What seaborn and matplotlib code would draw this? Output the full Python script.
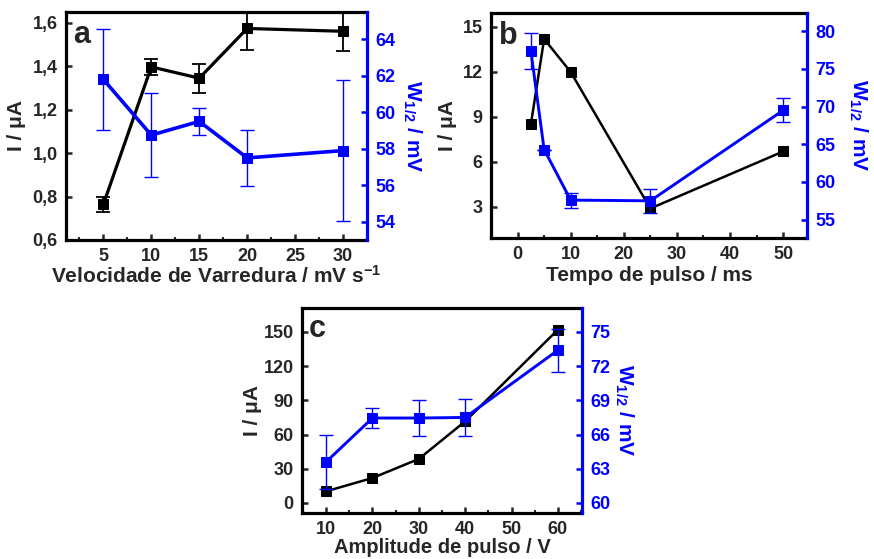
import numpy as np
import pandas as pd
import seaborn as sns
import matplotlib
matplotlib.use("Agg")
import matplotlib.pyplot as plt
from matplotlib.ticker import FuncFormatter, MultipleLocator

# dados
# (a) velocidade de varredura
a_x = [5, 10, 15, 20, 30]
a_I = [0.764, 1.397, 1.345, 1.574, 1.561]
a_I_err = [0.035, 0.035, 0.066, 0.10, 0.09]
a_W = [61.8, 58.75, 59.5, 57.5, 57.9]
a_W_err = [2.75, 2.3, 0.75, 1.55, 3.85]

# (b) tempo de pulso
b_x = [2.5, 5, 10, 25, 50]
b_I = [8.5, 14.2, 12.0, 2.9, 6.7]
b_W = [77.4, 64.3, 57.6, 57.5, 69.5]
b_W_err = [2.4, 0.0, 1.0, 1.6, 1.6]

# (c) amplitude de pulso
c_x = [10, 20, 30, 40, 60]
c_I = [10.2, 21.9, 38.6, 71.6, 152]
c_W = [63.6, 67.45, 67.45, 67.5, 73.4]
c_W_err = [2.4, 0.9, 1.6, 1.6, 1.9]

sns.set_style("ticks")
plt.rcParams['font.family'] = ['Liberation Sans', 'DejaVu Sans']
plt.rcParams['font.weight'] = 'bold'
plt.rcParams['axes.labelweight'] = 'bold'
plt.rcParams['mathtext.fontset'] = 'custom'
plt.rcParams['mathtext.rm'] = 'Liberation Sans:bold'
plt.rcParams['mathtext.bf'] = 'Liberation Sans:bold'
plt.rcParams['mathtext.default'] = 'bf'

BLUE = '#0000ff'
fig = plt.figure(figsize=(8.74, 5.59), dpi=100)


def painel(rect, x, I, W, W_err, I_err=None, lw=1.8, letra='a', pad_l=4, pad_r=18):
    ax = fig.add_axes(rect)
    ax2 = ax.twinx()
    df = pd.DataFrame({'x': x, 'I': I, 'W': W})
    if I_err is not None:
        ax.errorbar(x, I, yerr=I_err, fmt='none', ecolor='black', elinewidth=1.3, capsize=5, capthick=1.3)
    sns.lineplot(data=df, x='x', y='I', ax=ax, color='black', lw=lw, marker='s',
                 markersize=7, markeredgecolor='black', sort=False)
    ax2.errorbar(x, W, yerr=W_err, fmt='none', ecolor=BLUE, elinewidth=1.0, capsize=5, capthick=1.0)
    sns.lineplot(data=df, x='x', y='W', ax=ax2, color=BLUE, lw=lw + 0.3, marker='s',
                 markersize=7, markeredgecolor=BLUE, sort=False)
    for s in ax.spines.values():
        s.set_linewidth(2.3)
        s.set_color('black')
    ax.spines['right'].set_visible(False)
    for k in ['left', 'top', 'bottom']:
        ax2.spines[k].set_visible(False)
    ax2.spines['right'].set_color(BLUE)
    ax2.spines['right'].set_linewidth(2.3)
    ax.tick_params(axis='both', which='major', direction='in', length=4, width=1.8, labelsize=13, pad=6)
    ax.tick_params(axis='x', which='minor', direction='in', length=2.5, width=1.5)
    ax2.tick_params(axis='y', which='major', direction='in', length=4, width=1.8, labelsize=13, pad=6,
                    colors=BLUE)
    ax.set_ylabel('I / μA', fontsize=15, labelpad=pad_l)
    ax2.set_ylabel('W$_{1/2}$ / mV', fontsize=15, color=BLUE, rotation=270, labelpad=pad_r)
    ax.text(0.025, 0.90, letra, transform=ax.transAxes, fontsize=22, fontweight='bold', va='center', ha='left')
    for t in ax.get_xticklabels() + ax.get_yticklabels() + ax2.get_yticklabels():
        t.set_fontweight('bold')
    return ax, ax2


# painel a
ax, ax2 = painel([0.0755, 0.5707, 0.3444, 0.4079], a_x, a_I, a_W, a_W_err, I_err=a_I_err, lw=2.3, letra='a',
                 pad_l=5, pad_r=20)
ax.set_xlim(1.1, 32.5)
ax.set_xticks([5, 10, 15, 20, 25, 30])
ax.xaxis.set_minor_locator(MultipleLocator(2.5))
ax.set_ylim(0.6, 1.65)
ax.set_yticks([0.6, 0.8, 1.0, 1.2, 1.4, 1.6])
ax.yaxis.set_major_formatter(FuncFormatter(lambda v, p: f"{v:.1f}".replace('.', ',')))
ax2.set_ylim(53, 65.5)
ax2.set_yticks([54, 56, 58, 60, 62, 64])
ax.set_xlabel('Velocidade de Varredura / mV s$^{-1}$', fontsize=15, labelpad=0)

# painel b
ax, ax2 = painel([0.5618, 0.5742, 0.3616, 0.4025], b_x, b_I, b_W, b_W_err, lw=1.8, letra='b',
                 pad_l=4, pad_r=24)
ax.set_xlim(-5, 54.5)
ax.set_xticks([0, 10, 20, 30, 40, 50])
ax.xaxis.set_minor_locator(MultipleLocator(5))
ax.set_ylim(0.93, 15.93)
ax.set_yticks([3, 6, 9, 12, 15])
ax2.set_ylim(52.57, 82.4)
ax2.set_yticks([55, 60, 65, 70, 75, 80])
ax.set_xlabel('Tempo de pulso / ms', fontsize=15, labelpad=2)

# painel c
ax, ax2 = painel([0.3455, 0.0823, 0.3204, 0.3667], c_x, c_I, c_W, c_W_err, lw=1.8, letra='c',
                 pad_l=1, pad_r=18)
ax.set_xlim(4.8, 65.2)
ax.set_xticks([10, 20, 30, 40, 50, 60])
ax.xaxis.set_minor_locator(MultipleLocator(5))
ax.set_ylim(-8.8, 171)
ax.set_yticks([0, 30, 60, 90, 120, 150])
ax2.set_ylim(59.12, 77.1)
ax2.set_yticks([60, 63, 66, 69, 72, 75])
ax.set_xlabel('Amplitude de pulso / V', fontsize=14.5, labelpad=0)

fig.savefig('out.png', dpi=100)
